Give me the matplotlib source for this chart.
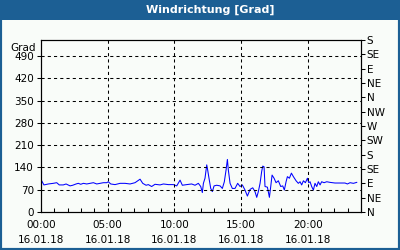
import matplotlib
matplotlib.use("Agg")
import matplotlib.pyplot as plt
from matplotlib.patches import Rectangle

# wind direction samples (hour of day, degrees)
hours = [0.05, 0.22, 0.55, 0.92, 1.18, 1.37, 1.67, 1.88, 2.18, 2.38, 2.63, 2.8, 2.98,
         3.18, 3.43, 3.68, 3.93, 4.18, 4.43, 4.68, 4.93, 5.05, 5.23, 5.55, 5.93, 6.3,
         6.68, 7.05, 7.43, 7.63, 7.88, 8.05, 8.3, 8.55, 8.93, 9.18, 9.55, 9.93, 10.18,
         10.43, 10.6, 10.93, 11.3, 11.55, 11.8, 11.98, 12.1, 12.18, 12.3, 12.43, 12.5,
         12.6, 12.73, 12.85, 12.98, 13.18, 13.43, 13.6, 13.75, 13.88, 13.98, 14.05,
         14.18, 14.35, 14.55, 14.75, 14.93, 15.1, 15.3, 15.48, 15.68, 15.88, 16.05,
         16.18, 16.3, 16.43, 16.55, 16.63, 16.73, 16.8, 16.98, 17.13, 17.23, 17.33,
         17.48, 17.63, 17.8, 17.98, 18.13, 18.25, 18.38, 18.48, 18.63, 18.78, 18.93,
         19.13, 19.3, 19.43, 19.55, 19.68, 19.83, 19.98, 20.08, 20.18, 20.3, 20.43,
         20.55, 20.68, 20.8, 20.93, 21.05, 21.23, 21.43, 21.68, 22.05, 22.43, 22.8,
         22.98, 23.18, 23.43, 23.68]
degrees = [98, 85, 88, 90, 92, 85, 85, 88, 82, 84, 88, 90, 87,
           90, 88, 90, 92, 88, 90, 92, 92, 95, 88, 86, 90, 90,
           88, 92, 103, 90, 84, 86, 80, 87, 85, 88, 86, 86, 82,
           100, 84, 86, 88, 84, 90, 80, 61, 90, 106, 148, 132,
           106, 74, 64, 82, 84, 82, 74, 95, 132, 165, 132,
           90, 74, 74, 90, 80, 85, 69, 50, 71, 76, 64,
           46, 64, 90, 127, 144, 142, 80, 78, 46, 80, 116,
           106, 92, 98, 80, 82, 69, 95, 111, 106, 122, 111,
           98, 90, 95, 85, 98, 92, 106, 92, 95, 80, 69,
           90, 80, 95, 85, 95, 92, 95, 93, 91, 91, 91,
           88, 92, 90, 93]

y_ticks = [0, 70, 140, 210, 280, 350, 420, 490]
x_ticks = [0, 5, 10, 15, 20]
x_labels = ["00:00\n16.01.18", "05:00\n16.01.18", "10:00\n16.01.18",
            "15:00\n16.01.18", "20:00\n16.01.18"]
compass_ticks = [0, 45, 90, 135, 180, 225, 270, 315, 360, 405, 450, 495, 540]
compass_labels = ["N", "NE", "E", "SE", "S", "SW", "W", "NW", "N", "NE", "E", "SE", "S"]

bar_blue = "#1c5f94"
bg = "#f9fcf9"

fig = plt.figure(figsize=(4, 2.5), dpi=100, facecolor=bg)

# title bar and frame
fig.patches.append(Rectangle((0, 0.92), 1, 0.08, transform=fig.transFigure,
                             facecolor=bar_blue, edgecolor="none"))
fig.patches.append(Rectangle((0, 0), 1, 1, transform=fig.transFigure,
                             facecolor="none", edgecolor=bar_blue, linewidth=3))
fig.text(0.525, 0.96, "Windrichtung [Grad]", color="white", fontsize=8,
         fontweight="bold", ha="center", va="center")

ax = fig.add_axes([0.1025, 0.152, 0.8, 0.688])
ax.set_facecolor(bg)
ax.plot(hours, degrees, color="#0000ff", linewidth=0.75)

ax.set_xlim(0, 24)
ax.set_ylim(0, 540)
ax.set_yticks(y_ticks)
ax.set_xticks(x_ticks)
ax.set_xticklabels(x_labels, linespacing=1.6)
ax.set_xticks(range(0, 25), minor=True)
ax.tick_params(axis="x", which="both", direction="in", length=3, width=0.75,
               labelsize=7.5, pad=6)
ax.tick_params(axis="y", direction="out", length=3, width=0.75, labelsize=7.5, pad=2)
for s in ax.spines.values():
    s.set_linewidth(0.8)

for v in y_ticks[1:]:
    ax.axhline(v, color="black", linestyle=(0, (3, 3)), linewidth=0.75)
for v in x_ticks[1:]:
    ax.axvline(v, color="black", linestyle=(0, (3, 3)), linewidth=0.75)

ax.text(-0.015, 515, "Grad", transform=ax.get_yaxis_transform(), ha="right",
        va="center", fontsize=7.5)

ax2 = ax.twinx()
ax2.set_ylim(0, 540)
ax2.set_yticks(compass_ticks)
ax2.set_yticklabels(compass_labels)
ax2.tick_params(axis="y", direction="out", length=3, width=0.75, labelsize=7.5, pad=1)

fig.savefig("out.png", dpi=100, facecolor=bg)
